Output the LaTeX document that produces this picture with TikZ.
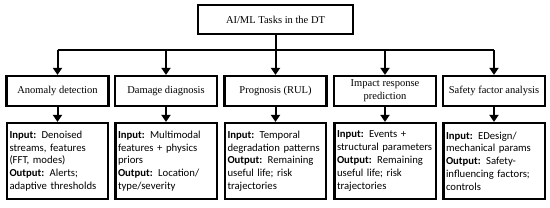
\documentclass[tikz,border=0pt]{standalone}
\usepackage{fontspec}
\setmainfont{Liberation Serif}
\newfontfamily\iofont{Carlito}
\usetikzlibrary{arrows.meta}
\newcommand{\iostyle}{\iofont\fontsize{10.7}{12.8}\selectfont\hyphenpenalty=10000\relax}

\begin{document}
\begin{tikzpicture}[x=1pt, y=-1pt,
    every node/.style={font=\fontsize{10.5}{13}\selectfont},
    taskbox/.style={draw, line width=2.2pt, align=center, minimum width=102pt, minimum height=30pt, inner sep=2pt},
    iobox/.style={draw, line width=2.2pt, align=left, text width=96pt, minimum height=76pt, inner xsep=2.6pt, inner ysep=3pt,
                  font=\iostyle},
    link/.style={line width=2pt},
    arrow/.style={line width=2pt, -{Triangle[length=7pt, width=9pt]}}]
  \useasboundingbox (0,0) rectangle (550,207);
  \node[taskbox, minimum width=155pt, minimum height=29pt] (dt) at (275.5,19.5) {AI/ML Tasks in the DT};
  \coordinate (bus) at (275.5,50);
  \node[taskbox] (anomaly) at (57.5,91) {Anomaly detection};
  \node[taskbox] (damage) at (166,91) {Damage diagnosis};
  \node[taskbox] (prognosis) at (275.5,91) {Prognosis (RUL)};
  \node[taskbox] (impact) at (385,91) {Impact response\\ prediction};
  \node[taskbox] (safety) at (494,91) {Safety factor analysis};
  \node[iobox] (anomalyio) at (57.5,161) {\textbf{Input:} Denoised\\ streams, features\\ (FFT, modes)\\ \textbf{Output:} Alerts;\\ adaptive thresholds};
  \node[iobox] (damageio) at (166,161) {\textbf{Input:} Multimodal\\ features + physics\\ priors\\ \textbf{Output:} Location/\\ type/severity};
  \node[iobox] (prognosisio) at (275.5,161) {\textbf{Input:} Temporal\\ degradation patterns\\ \textbf{Output:} Remaining\\ useful life; risk\\ trajectories};
  \node[iobox] (impactio) at (385,161) {\textbf{Input:} Events +\\ structural parameters\\ \textbf{Output:} Remaining\\ useful life; risk\\ trajectories};
  \node[iobox] (safetyio) at (494,161) {\textbf{Input:} EDesign/\\ mechanical params\\ \textbf{Output:} Safety-\\ influencing factors;\\ controls};
  % tree connectors
  \draw[link] (dt.south) -- (bus);
  \draw[link] (bus -| anomaly) -- (bus -| safety);
  \foreach \t in {anomaly, damage, prognosis, impact, safety} {
    \draw[arrow] (bus -| \t) -- (\t.north);
    \draw[arrow] (\t.south) -- (\t io.north);
  }
\end{tikzpicture}
\end{document}
